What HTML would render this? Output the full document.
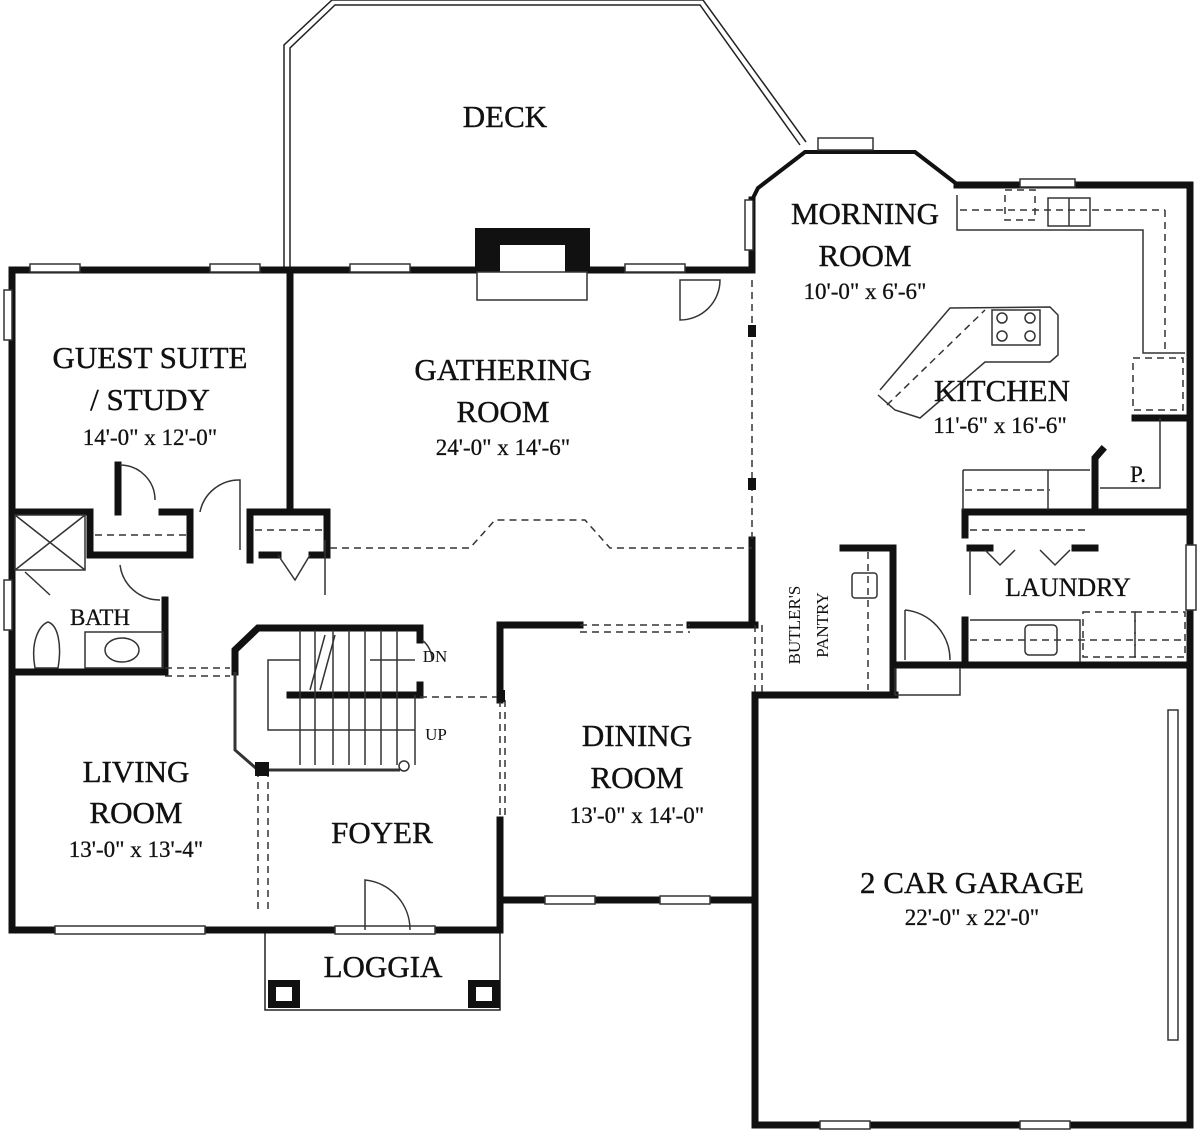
<!DOCTYPE html>
<html><head><meta charset="utf-8"><style>
html,body{margin:0;padding:0;background:#fff;}
svg{display:block}
text{font-family:"Liberation Serif",serif;fill:#111;text-anchor:middle}
</style></head><body>
<svg width="1200" height="1131" viewBox="0 0 1200 1131" xmlns="http://www.w3.org/2000/svg">
<g fill="none" stroke="#222" stroke-width="1.5">
<polyline points="290,268 290,48 335,5 700,5 800,145"/>
<polyline points="284,268 284,45 332,0 703,0 806,142"/>
<rect x="265" y="930" width="235" height="80"/>
</g>
<g fill="#111">
<rect x="268" y="980" width="32" height="28"/><rect x="468" y="980" width="32" height="28"/>
</g>
<g fill="#fff"><rect x="276" y="987" width="16" height="14"/><rect x="476" y="987" width="16" height="14"/></g>

<g stroke="#111" stroke-width="7" fill="none" stroke-linecap="square">
<line x1="12" y1="270" x2="12" y2="930"/>
<line x1="12" y1="270" x2="750" y2="270"/>
<line x1="12" y1="930" x2="265" y2="930"/>
<line x1="265" y1="930" x2="500" y2="930"/>
<line x1="500" y1="900" x2="755" y2="900"/>
<line x1="500" y1="900" x2="500" y2="930"/>
<line x1="290" y1="270" x2="290" y2="505"/>
<line x1="12" y1="672" x2="165" y2="672"/>
<line x1="165" y1="600" x2="165" y2="672"/>
<polyline points="12,512 90,512 90,555 190,555 190,512 162,512"/>
<polyline points="118,512 118,465"/>
<polyline points="250,560 250,512 327,512 327,555 312,555"/>
<line x1="262" y1="555" x2="278" y2="555"/>
<polyline points="235,672 235,650 258,628 420,628 420,640"/>
<line x1="290" y1="695" x2="420" y2="695"/>
<line x1="420" y1="685" x2="420" y2="695"/>
<line x1="500" y1="625" x2="580" y2="625"/>
<line x1="690" y1="625" x2="755" y2="625"/>
<line x1="500" y1="625" x2="500" y2="700"/>
<line x1="500" y1="820" x2="500" y2="900"/>
<line x1="752" y1="540" x2="752" y2="625"/>
<line x1="755" y1="695" x2="755" y2="1125"/>
<line x1="755" y1="1125" x2="1190" y2="1125"/>
<line x1="1190" y1="185" x2="1190" y2="1125"/>
<line x1="957" y1="185" x2="1190" y2="185"/>
<line x1="752" y1="200" x2="752" y2="270"/>
<line x1="755" y1="695" x2="895" y2="695"/>
<line x1="893" y1="548" x2="893" y2="695"/>
<line x1="843" y1="548" x2="893" y2="548"/>
<line x1="895" y1="665" x2="1190" y2="665"/>
<line x1="965" y1="512" x2="1190" y2="512"/>
<line x1="965" y1="512" x2="965" y2="535"/>
<line x1="965" y1="620" x2="965" y2="665"/>
<polyline points="1095,512 1095,458 1102,450"/>
<line x1="1135" y1="418" x2="1190" y2="418"/>
<polyline points="970,548 990,548"/><polyline points="1075,548 1095,548"/>
</g>
<rect x="475" y="228" width="115" height="44" fill="#111"/>
<rect x="500" y="245" width="65" height="27" fill="#fff"/>
<rect x="477" y="272" width="110" height="28" fill="#fff" stroke="#333" stroke-width="1.5"/>
<g fill="#fff" stroke="#333" stroke-width="1.5">
<rect x="30" y="264" width="50" height="8"/><rect x="210" y="264" width="50" height="8"/>
<rect x="350" y="264" width="60" height="8"/><rect x="625" y="264" width="60" height="8"/>
<rect x="4" y="290" width="8" height="50"/><rect x="4" y="580" width="8" height="50"/>
<rect x="55" y="926" width="150" height="8"/><rect x="335" y="926" width="100" height="8"/>
<rect x="545" y="896" width="50" height="8"/><rect x="660" y="896" width="50" height="8"/>
<rect x="1020" y="179" width="55" height="8"/><rect x="1186" y="545" width="10" height="65"/>
<rect x="1168" y="710" width="10" height="330"/>
<rect x="820" y="1121" width="50" height="8"/><rect x="1020" y="1121" width="50" height="8"/>
<rect x="745" y="200" width="8" height="50"/>
</g>
<g stroke="#111" stroke-width="4" fill="none">
<polyline points="752,200 758,188 805,152 915,152 958,185"/>
</g>
<g fill="none" stroke="#333" stroke-width="1.5">
<rect x="818" y="138" width="55" height="12" fill="#fff"/>
<g stroke-dasharray="7,5">
<line x1="752" y1="280" x2="752" y2="540"/>
<polyline points="330,548 470,548 495,520 585,520 610,548 752,548"/>
<line x1="165" y1="668" x2="230" y2="668"/><line x1="165" y1="676" x2="230" y2="676"/>
<line x1="580" y1="625" x2="690" y2="625"/><line x1="580" y1="632" x2="690" y2="632"/>
<line x1="500" y1="700" x2="500" y2="820"/><line x1="505" y1="700" x2="505" y2="820"/>
<line x1="420" y1="697" x2="500" y2="697"/>
<line x1="258" y1="770" x2="258" y2="910"/><line x1="268" y1="770" x2="268" y2="910"/>
<line x1="755" y1="625" x2="755" y2="695"/><line x1="762" y1="625" x2="762" y2="695"/>
<line x1="868" y1="552" x2="868" y2="690"/>
<line x1="960" y1="210" x2="1165" y2="210"/><line x1="1165" y1="210" x2="1165" y2="350"/>
<line x1="887" y1="405" x2="985" y2="310"/>
<line x1="965" y1="490" x2="1050" y2="490"/>
<line x1="970" y1="530" x2="1090" y2="530"/>
<line x1="970" y1="640" x2="1185" y2="640"/>
<line x1="95" y1="535" x2="188" y2="535"/><line x1="255" y1="530" x2="325" y2="530"/>
<rect x="1133" y="358" width="50" height="52"/>
<rect x="1083" y="612" width="52" height="45"/><rect x="1135" y="612" width="50" height="45"/>
<rect x="1005" y="190" width="30" height="30"/>
</g>
<polyline points="957,195 957,230 1143,230 1143,353 1185,353"/>
<polyline points="880,390 950,308 1050,307 1058,315 1058,355 1050,362 985,362 920,418 895,410 878,395"/>
<rect x="992" y="310" width="48" height="35"/>
<circle cx="1002" cy="318" r="5"/><circle cx="1002" cy="336" r="5"/><circle cx="1030" cy="318" r="5"/><circle cx="1030" cy="336" r="5"/>
<rect x="1048" y="198" width="42" height="28"/><line x1="1069" y1="198" x2="1069" y2="226"/>
<polyline points="963,470 1090,470"/><line x1="963" y1="470" x2="963" y2="510"/><line x1="1048" y1="470" x2="1048" y2="510"/>
<polyline points="1100,488 1160,488 1160,418"/>
<polyline points="970,620 1080,620 1080,662"/>
<rect x="1025" y="625" width="32" height="30" rx="4"/>
<rect x="852" y="573" width="25" height="25" rx="3"/>
<polyline points="970,550 970,595"/>
<polyline points="985,550 1000,565 1015,550"/><polyline points="1040,550 1055,565 1070,550"/>
<path d="M680,280 L720,280 A40,40 0 0 1 680,320 Z"/>
<path d="M905,610 L905,660 M905,610 A50,50 0 0 1 950,660"/>
<path d="M365,930 L365,880 A50,50 0 0 1 410,930"/>
<path d="M120,465 A35,35 0 0 1 155,500"/>
<path d="M200,512 A40,40 0 0 1 240,480 L240,550"/>
<path d="M120,565 A40,40 0 0 0 160,600"/>
<path d="M278,555 L295,580 L310,555"/>
<path d="M895,668 L895,695 L960,695 L960,668"/>
<path d="M422,640 A25,25 0 0 1 432,660"/>
<line x1="325" y1="540" x2="325" y2="595"/>
<rect x="15" y="515" width="70" height="55"/><line x1="15" y1="515" x2="85" y2="570"/><line x1="85" y1="515" x2="15" y2="570"/>
<line x1="25" y1="572" x2="50" y2="595"/>
<rect x="85" y="632" width="78" height="36"/><ellipse cx="122" cy="650" rx="17" ry="12"/>
<path d="M35,668 C30,640 40,625 48,622 C58,625 62,645 58,668 Z"/>
<g>
<line x1="300" y1="630" x2="300" y2="765"/><line x1="315" y1="630" x2="315" y2="765"/>
<line x1="333" y1="630" x2="333" y2="765"/><line x1="349" y1="630" x2="349" y2="765"/>
<line x1="365" y1="630" x2="365" y2="765"/><line x1="381" y1="630" x2="381" y2="765"/>
<line x1="397" y1="630" x2="397" y2="765"/><line x1="415" y1="695" x2="415" y2="765"/>
<polyline points="300,660 268,660 268,730 415,730"/>
<line x1="370" y1="660" x2="415" y2="660"/>
<line x1="320" y1="690" x2="335" y2="635"/><line x1="310" y1="690" x2="325" y2="635"/>
<path d="M235,672 L235,750 L258,770 L400,770" stroke-width="3"/>
<circle cx="404" cy="766" r="5"/>
</g>
</g>
<rect x="255" y="762" width="14" height="14" fill="#111"/>
<rect x="497" y="690" width="8" height="12" fill="#111"/>
<rect x="748" y="325" width="8" height="12" fill="#111"/><rect x="748" y="478" width="8" height="12" fill="#111"/>
<g font-size="31" stroke="#111" stroke-width="0.4">
<text x="505" y="127">DECK</text>
<text x="865" y="224">MORNING</text><text x="865" y="266">ROOM</text>
<text x="150" y="368">GUEST SUITE</text><text x="150" y="410">/ STUDY</text>
<text x="503" y="380">GATHERING</text><text x="503" y="422">ROOM</text>
<text x="1002" y="401">KITCHEN</text>
<text x="637" y="746">DINING</text><text x="637" y="788">ROOM</text>
<text x="136" y="782">LIVING</text><text x="136" y="823">ROOM</text>
<text x="382" y="843">FOYER</text>
<text x="383" y="977">LOGGIA</text>
<text x="972" y="893">2 CAR GARAGE</text>
</g>
<g font-size="23" stroke="#111" stroke-width="0.3">
<text x="865" y="299">10'-0" x 6'-6"</text>
<text x="150" y="445">14'-0" x 12'-0"</text>
<text x="503" y="455">24'-0" x 14'-6"</text>
<text x="1000" y="433">11'-6" x 16'-6"</text>
<text x="637" y="823">13'-0" x 14'-0"</text>
<text x="136" y="857">13'-0" x 13'-4"</text>
<text x="972" y="925">22'-0" x 22'-0"</text>
<text x="1068" y="596" font-size="26">LAUNDRY</text>
<text x="100" y="625">BATH</text>
<text x="1138" y="482">P.</text>
</g>
<g font-size="17">
<text x="435" y="662">DN</text><text x="436" y="740">UP</text>
<text transform="translate(800,625) rotate(-90)">BUTLER'S</text>
<text transform="translate(828,625) rotate(-90)">PANTRY</text>
</g>
</svg>
</body></html>
